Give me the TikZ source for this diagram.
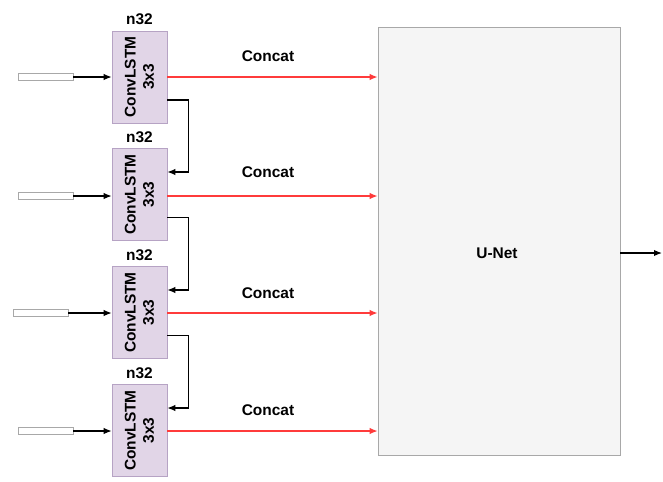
\documentclass[tikz,border=0pt]{standalone}
\usepackage{fontspec}
\setmainfont{Liberation Sans}
\usepackage{xcolor}
\usetikzlibrary{arrows.meta, positioning}
\definecolor{lilac}{HTML}{E1D5E7}
\definecolor{lilacline}{HTML}{B6A3C4}
\definecolor{fog}{HTML}{F5F5F5}
\definecolor{ash}{HTML}{A8A8A8}
\definecolor{redline}{HTML}{FF3B3B}

\begin{document}
\begin{tikzpicture}[
  x=0.025cm, y=-0.025cm,
  font=\fontsize{11}{13}\selectfont\bfseries,
  lstm/.style={rectangle, draw=lilacline, fill=lilac, minimum width=1.375cm,
               minimum height=2.3cm, inner sep=0pt},
  inbox/.style={rectangle, draw=ash, fill=white, minimum width=1.375cm,
                minimum height=0.175cm, inner sep=0pt},
  unet/.style={rectangle, draw=ash, fill=fog, minimum width=6.05cm,
               minimum height=10.7cm, inner sep=0pt},
  arr/.style={-{Latex[length=2mm, width=1.6mm]}, line width=0.9pt, draw=black},
  cat/.style={-{Latex[length=2mm, width=1.6mm]}, line width=0.9pt, draw=redline},
  lbl/.style={inner sep=1pt},
]
\useasboundingbox (0,0) rectangle (663,481);
% ---------------- U-Net block
\node[unet] (net) at (499,241) {};
\node[lbl] (netlbl) at (497,253) {U-Net};
\coordinate (out) at (662,253);
\draw[arr] (net.east |- out) -- (out);
% ---------------- ConvLSTM column
\foreach \i/\y/\ix/\iy/\cy in {1/77/45.5/77/56, 2/194.5/45.5/196/172,
                             3/312.5/40.5/313/293, 4/430.5/45.5/431/410} {
  \node[lstm] (lstm\i) at (139.5,\y) {};
  \node[lbl, rotate=90, align=center] (txt\i) at (lstm\i.center) {ConvLSTM\\3x3};
  \node[lbl, above=3pt of lstm\i] (n\i) {n32};
  \node[inbox] (in\i) at (\ix,\iy) {};
  \draw[arr] (in\i.east) -- (lstm\i.west |- in\i.east);
  \draw[cat] (lstm\i.east |- in\i.east) -- (net.west |- in\i.east);
  \node[lbl] (cat\i) at (268,\cy) {Concat};
}
% ---------------- hidden state hand-over
\foreach \i/\j in {1/2, 2/3, 3/4} {
  \draw[arr] ([yshift=-0.575cm]lstm\i.east) -- ++(21,0)
    |- ([yshift=0.5625cm]lstm\j.east);
}
\end{tikzpicture}
\end{document}
